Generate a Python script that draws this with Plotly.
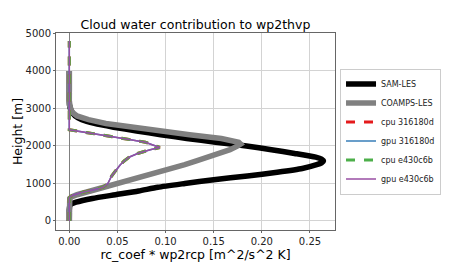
import plotly.graph_objects as go

# SAM-LES profile
sam_z = [0, 100, 200, 300, 400, 450, 500, 600, 700, 800, 900, 1000, 1100, 1200, 1300, 1400,
         1500, 1550, 1600, 1650, 1700, 1800, 1900, 2000, 2100, 2200, 2300, 2400, 2500, 2600,
         2700, 2800, 2900, 3000, 3100, 3200, 3500, 4000]
sam_x = [0, 0, 0, 0, 0.0005, 0.002, 0.007, 0.024, 0.048, 0.072, 0.092, 0.12, 0.15, 0.185,
         0.216, 0.242, 0.257, 0.262, 0.264, 0.262, 0.256, 0.234, 0.21, 0.184, 0.152, 0.122,
         0.095, 0.07, 0.046, 0.026, 0.013, 0.006, 0.003, 0.001, 0.0003, 0, 0, 0]

# COAMPS-LES profile
coamps_z = [0, 100, 200, 300, 400, 500, 600, 650, 700, 800, 900, 1000, 1100, 1200, 1300,
            1400, 1500, 1600, 1700, 1800, 1900, 2000, 2050, 2100, 2200, 2300, 2400, 2500,
            2600, 2700, 2800, 2900, 3000, 3100, 3500, 4000]
coamps_x = [0, 0, 0, 0, 0, 0, 0.0005, 0.003, 0.008, 0.022, 0.036, 0.052, 0.067, 0.082,
            0.095, 0.108, 0.12, 0.132, 0.145, 0.157, 0.167, 0.175, 0.178, 0.176, 0.158,
            0.125, 0.095, 0.065, 0.038, 0.02, 0.008, 0.003, 0.001, 0, 0, 0]

# CLUBB runs (all four identical)
model_z = [0, 100, 200, 300, 400, 500, 600, 650, 700, 750, 800, 850, 900, 950, 1000, 1100,
           1200, 1300, 1400, 1500, 1600, 1700, 1800, 1850, 1900, 1960, 2000, 2050, 2100,
           2200, 2300, 2400, 2430, 2500, 3000, 3500, 4000, 4500, 4800]
model_x = [0, 0, 0, 0, 0, 0, 0, 0.001, 0.005, 0.012, 0.021, 0.029, 0.035, 0.038, 0.04,
           0.042, 0.044, 0.047, 0.05, 0.053, 0.057, 0.062, 0.071, 0.077, 0.084, 0.094,
           0.09, 0.086, 0.079, 0.056, 0.03, 0.005, 0, 0, 0, 0, 0, 0, 0]

series_names = ["cpu 316180d", "gpu 316180d", "cpu e430c6b", "gpu e430c6b"]
series_colors = ["#e41a1c", "#377eb8", "#4daf4a", "#984ea3"]
series_dash = ["dash", "solid", "dash", "solid"]
series_width = [3, 1.5, 3, 1.5]

x_ticks = [0, 0.05, 0.10, 0.15, 0.20, 0.25]
y_ticks = [0, 1000, 2000, 3000, 4000, 5000]

FONT = "DejaVu Sans"

fig = go.Figure()
fig.add_trace(go.Scatter(x=sam_x, y=sam_z, mode="lines", name="SAM-LES",
                         line=dict(color="black", width=5.5, shape="spline", smoothing=0.6)))
fig.add_trace(go.Scatter(x=coamps_x, y=coamps_z, mode="lines", name="COAMPS-LES",
                         line=dict(color="#808080", width=5.5)))
for n, c, d, w in zip(series_names, series_colors, series_dash, series_width):
    fig.add_trace(go.Scatter(x=model_x, y=model_z, mode="lines", name=n,
                             line=dict(color=c, width=w, dash=d)))

axis_common = dict(
    showline=True, mirror=True, linecolor="#666666", linewidth=1,
    ticks="outside", ticklen=2, tickcolor="#666666",
    showgrid=True, gridcolor="#d3d3d3", gridwidth=1,
    tickfont=dict(family=FONT, size=10, color="#222222"),
    automargin=False,
)

fig.update_layout(
    width=450, height=270,
    margin=dict(l=56, r=115, t=33, b=40, autoexpand=False),
    paper_bgcolor="white", plot_bgcolor="white",
    font=dict(family=FONT, color="#222222"),
    title=dict(text="Cloud water contribution to wp2thvp", x=0.5, xref="paper",
               y=1 - 25 / 270, yref="container", yanchor="middle",
               font=dict(family=FONT, size=12.5, color="black")),
    xaxis=dict(range=[-0.0138, 0.276], tickvals=x_ticks, tickformat=".2f",
               zeroline=True, zerolinecolor="#808080", zerolinewidth=1,
               title=dict(text="rc_coef * wp2rcp [m^2/s^2 K]",
                          font=dict(family=FONT, size=12.5, color="black"), standoff=0),
               **axis_common),
    yaxis=dict(range=[-240, 5010], tickvals=y_ticks, zeroline=False,
               title=dict(text="Height [m]",
                          font=dict(family=FONT, size=12.5, color="black"), standoff=0),
               **axis_common),
    legend=dict(x=1.018, xanchor="left", y=0.5, yanchor="middle",
                bordercolor="#cccccc", borderwidth=1, bgcolor="white",
                font=dict(family=FONT, size=8, color="#222222"),
                tracegroupgap=0, itemwidth=30),
    showlegend=True,
)

fig.write_html("out.html")
